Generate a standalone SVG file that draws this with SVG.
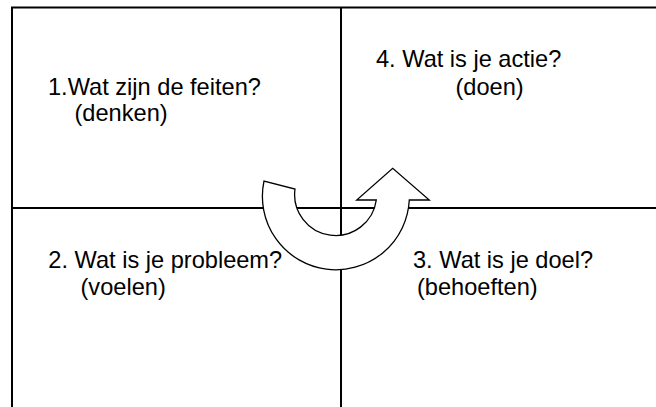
<svg xmlns="http://www.w3.org/2000/svg" width="656" height="407" viewBox="0 0 656 407">
<style>
.grid{stroke:#000;stroke-width:2;fill:none}
.t{font-family:"Liberation Sans",Arial,sans-serif;font-size:23.6px;fill:#000}
.arrow{fill:#fff;stroke:#000;stroke-width:1.3;stroke-linejoin:miter}
</style>
<rect x="0" y="0" width="656" height="407" fill="#fff"/>
<g id="connectors">
<path class="grid" d="M11,7.5 H656 M12,6.5 V407 M341,7 V407 M12,208 H656"/>
</g>
<g id="q1">
<text class="t" x="48" y="95">1.Wat zijn de feiten?</text>
<text class="t" x="74.5" y="121">(denken)</text>
</g>
<g id="q4">
<text class="t" x="376" y="67">4. Wat is je actie?</text>
<text class="t" x="455.5" y="95">(doen)</text>
</g>
<g id="q2">
<text class="t" x="48.3" y="268">2. Wat is je probleem?</text>
<text class="t" x="80.5" y="295">(voelen)</text>
</g>
<g id="q3">
<text class="t" x="413" y="268">3. Wat is je doel?</text>
<text class="t" x="417" y="295">(behoeften)</text>
</g>
<g id="cycle-arrow">
<path class="arrow" d="M264,181 A73.5,73.5 0 1 0 409.3,200 L429.3,200 L392.7,168.3 L356.7,200 L376.3,200 A40.8,40.8 0 1 1 295,189 Z"/>
</g>
</svg>
